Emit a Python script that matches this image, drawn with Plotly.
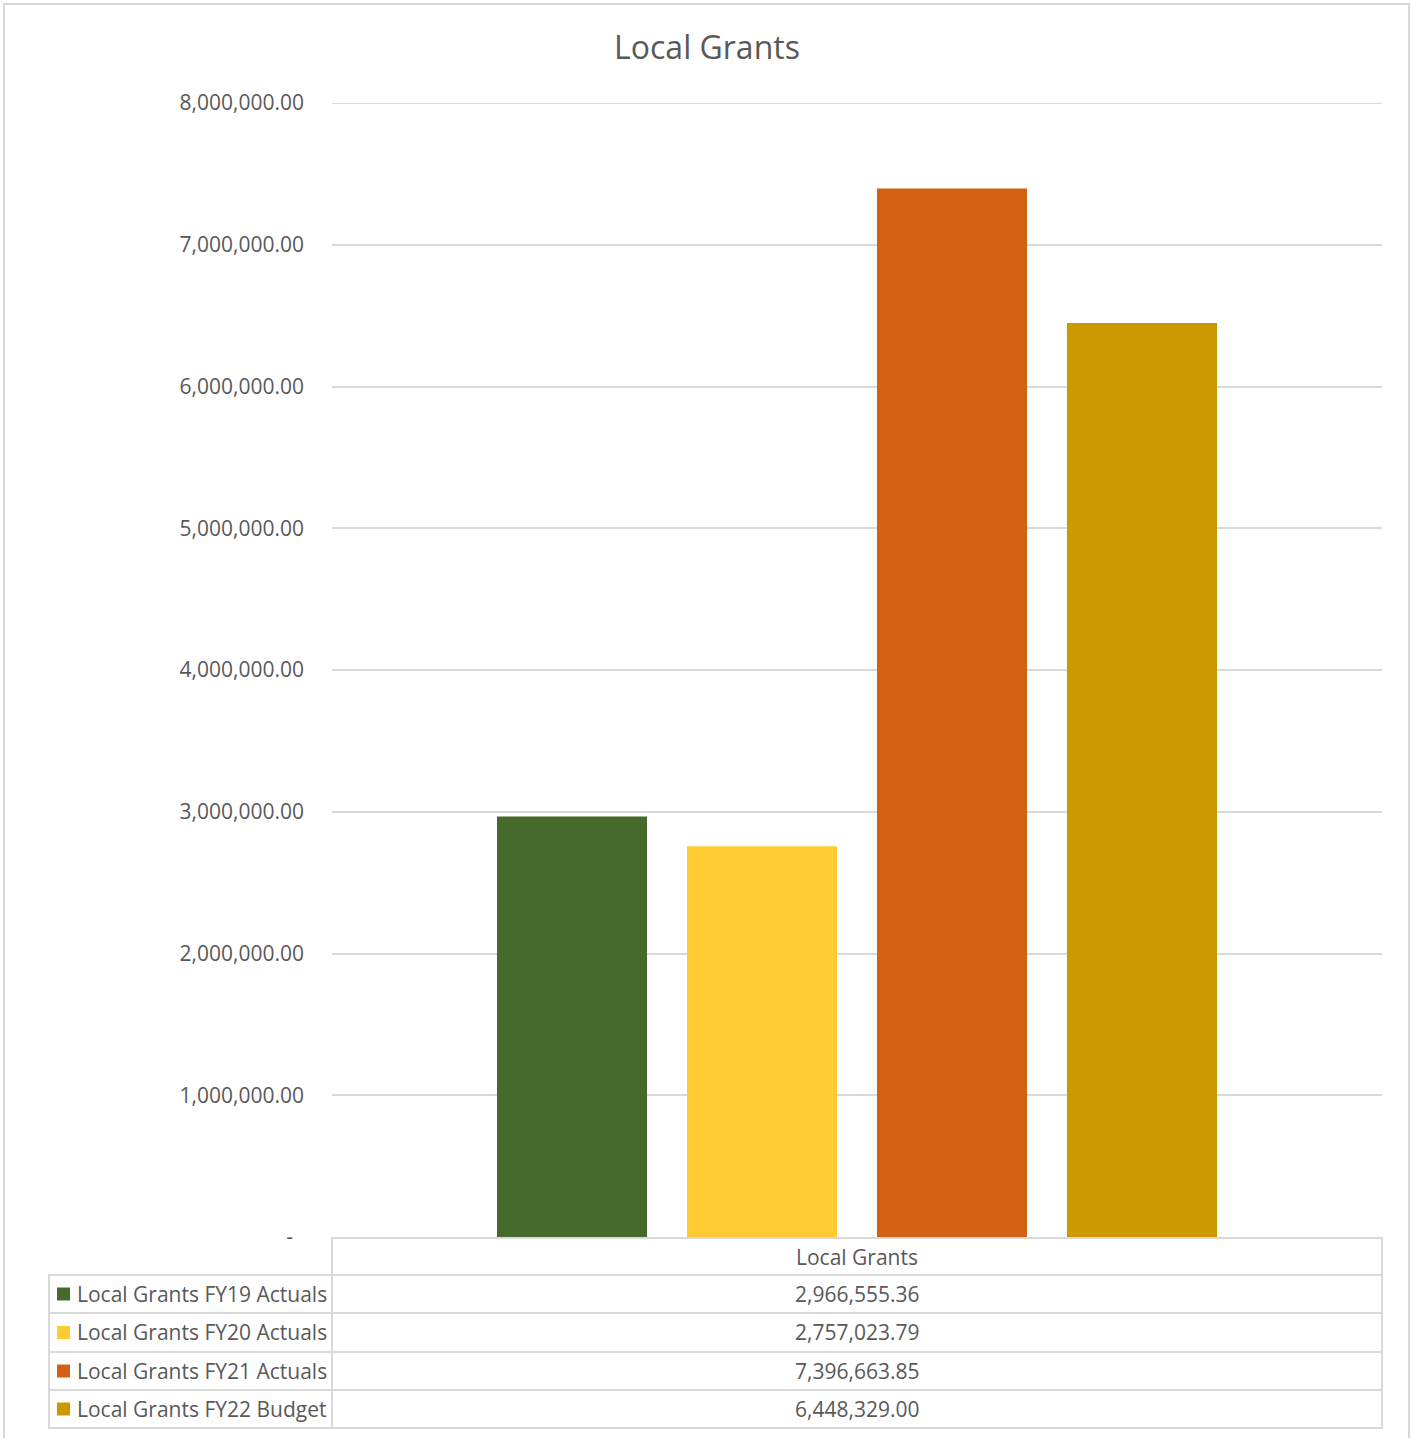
import plotly.graph_objects as go

# ---- data ----
category = "Local Grants"
series_names = ["Local Grants FY19 Actuals", "Local Grants FY20 Actuals",
                "Local Grants FY21 Actuals", "Local Grants FY22 Budget"]
series_values = [2966555.36, 2757023.79, 7396663.85, 6448329.00]
series_colors = ["#466A2B", "#FFCC33", "#D26114", "#CC9900"]
tick_values = [0, 1000000, 2000000, 3000000, 4000000, 5000000, 6000000, 7000000, 8000000]
tick_labels = ["-\u00a0\u00a0"] + [f"{v:,.2f}" for v in tick_values[1:]]

W, H = 1411, 1438
PL, PR, PT, PB = 332, 1382, 103, 1237
FONT = "Open Sans"
TXT = "#595959"
GRID = "#D9D9D9"
FS = 21

def px(x):
    return (x - PL) / (PR - PL)

def py(y):
    return (PB - y) / (PB - PT)

fig = go.Figure()
for name, val, col in zip(series_names, series_values, series_colors):
    fig.add_trace(go.Bar(x=[category], y=[val], name=name,
                         marker=dict(color=col, line=dict(width=0)),
                         showlegend=False, hoverinfo="y+name"))

shapes = []
annotations = []

# outer chart border
shapes.append(dict(type="rect", xref="paper", yref="paper",
                   x0=px(4), x1=px(1409), y0=py(1450), y1=py(4),
                   line=dict(color=GRID, width=2), layer="below"))

# top gridline (plotly drops the grid line at the range edge)
shapes.append(dict(type="line", xref="paper", yref="y",
                   x0=0, x1=1, y0=tick_values[-1], y1=tick_values[-1],
                   line=dict(color=GRID, width=2), layer="below"))

# data table
row_edges = [1238, 1275, 1313, 1352, 1390, 1428]
shapes.append(dict(type="rect", xref="paper", yref="paper",
                   x0=px(332), x1=px(1382), y0=py(row_edges[1]), y1=py(row_edges[0]),
                   line=dict(color=GRID, width=2)))
for i in range(4):
    y0, y1 = row_edges[i + 1], row_edges[i + 2]
    shapes.append(dict(type="rect", xref="paper", yref="paper",
                       x0=px(49), x1=px(332), y0=py(y1), y1=py(y0),
                       line=dict(color=GRID, width=2)))
    shapes.append(dict(type="rect", xref="paper", yref="paper",
                       x0=px(332), x1=px(1382), y0=py(y1), y1=py(y0),
                       line=dict(color=GRID, width=2)))
    yc = (y0 + y1) / 2
    shapes.append(dict(type="rect", xref="paper", yref="paper",
                       x0=px(57), x1=px(70), y0=py(yc + 6.5), y1=py(yc - 6.5),
                       fillcolor=series_colors[i], line=dict(width=0)))
    annotations.append(dict(xref="paper", yref="paper", x=px(75), y=py(yc),
                            xanchor="left", yanchor="middle", showarrow=False,
                            text=series_names[i], font=dict(family=FONT, size=FS, color=TXT)))
    annotations.append(dict(xref="paper", yref="paper", x=px(857), y=py(yc),
                            xanchor="center", yanchor="middle", showarrow=False,
                            text=f"{series_values[i]:,.2f}", font=dict(family=FONT, size=FS, color=TXT)))

annotations.append(dict(xref="paper", yref="paper", x=px(857), y=py((row_edges[0] + row_edges[1]) / 2),
                        xanchor="center", yanchor="middle", showarrow=False,
                        text=category, font=dict(family=FONT, size=FS, color=TXT)))

fig.update_layout(
    width=W, height=H,
    margin=dict(l=PL, r=W - PR, t=PT, b=H - PB, pad=0),
    paper_bgcolor="white", plot_bgcolor="white",
    title=dict(text="Local Grants", x=707 / W, xref="container", xanchor="center",
               y=1 - 48 / H, yref="container", yanchor="middle",
               font=dict(family=FONT, size=32, color=TXT)),
    barmode="group", bargap=0.2762, bargroupgap=0.2105,
    xaxis=dict(showticklabels=False, showgrid=False, zeroline=False, showline=False, ticks=""),
    yaxis=dict(range=[0, 8000000], tickvals=tick_values, ticktext=tick_labels,
               showgrid=True, gridcolor=GRID, gridwidth=2, zeroline=False, showline=False,
               ticks="", ticklabelstandoff=27,
               tickfont=dict(family=FONT, size=FS, color=TXT)),
    shapes=shapes, annotations=annotations,
    font=dict(family=FONT, color=TXT),
)

fig.write_html("out.html")
